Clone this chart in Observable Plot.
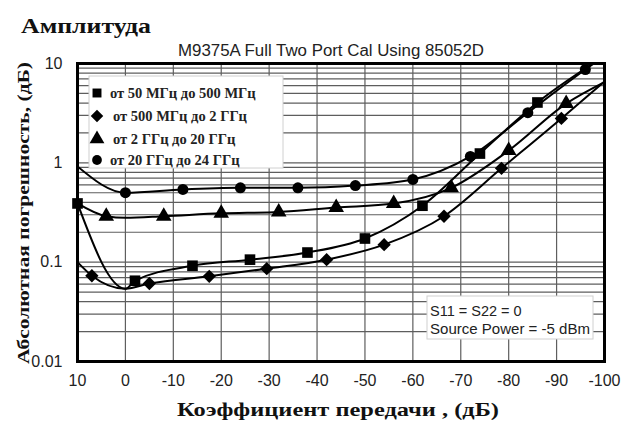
<!DOCTYPE html>
<html>
<head>
<meta charset="utf-8">
<script src="https://cdn.jsdelivr.net/npm/d3@7"></script>
<script src="https://cdn.jsdelivr.net/npm/@observablehq/plot@0.6"></script>
<style>
  html, body { margin: 0; padding: 0; background: white; }
</style>
</head>
<body>
<div id="chart"></div>
<script>
// ---- data ----
const xTicks = [10, 0, -10, -20, -30, -40, -50, -60, -70, -80, -90, -100];
const yTicks = [0.01, 0.1, 1, 10];
const yTickLabels = ["0.01", "0.1", "1", "10"];

const seriesNames = ["от 50 МГц до 500 МГц", "от 500 МГц до 2 ГГц", "от 2 ГГц до 20 ГГц", "от 20 ГГц до 24 ГГц"];
const seriesSymbols = ["square", "diamond2", "triangle", "circle"];

// 50–500 MHz (squares)
const sqX = [10, 0, -2, -14, -26, -38, -50, -62, -74, -86, -98];
const sqY = [0.39, 0.054, 0.065, 0.092, 0.106, 0.125, 0.173, 0.37, 1.24, 4.05, 10.3];
const sqM = [1, 0, 1, 1, 1, 1, 1, 1, 1, 1, 0];

// 500 MHz – 2 GHz (diamonds)
const dmX = [10, 7, 0, -5, -17.5, -29.5, -42, -54, -66.5, -78.5, -91, -100];
const dmY = [0.1, 0.073, 0.054, 0.061, 0.072, 0.086, 0.106, 0.15, 0.29, 0.88, 2.8, 6.6];
const dmM = [0, 1, 0, 1, 1, 1, 1, 1, 1, 1, 1, 0];

// 2 – 20 GHz (triangles)
const trX = [10, 4, 0, -8, -20, -32, -44, -56, -68, -80, -92, -100];
const trY = [0.39, 0.29, 0.28, 0.29, 0.31, 0.32, 0.355, 0.39, 0.56, 1.33, 3.95, 6.5];
const trM = [0, 1, 0, 1, 1, 1, 1, 1, 1, 1, 1, 0];

// 20 – 24 GHz (circles)
const ciX = [10, 0, -12, -24, -36, -48, -60, -72, -84, -96, -98];
const ciY = [0.92, 0.50, 0.54, 0.56, 0.56, 0.59, 0.68, 1.16, 3.2, 8.7, 10.2];
const ciM = [0, 1, 1, 1, 1, 1, 1, 1, 1, 1, 0];

// ---- build tables ----
function table(xs, ys, ms, k) {
  return xs.map((x, i) => ({x, y: ys[i], m: ms[i], s: k}));
}
const series = [
  table(sqX, sqY, sqM, 0),
  table(dmX, dmY, dmM, 1),
  table(trX, trY, trM, 2),
  table(ciX, ciY, ciM, 3)
];
const yGrid = [];
[0.01, 0.1, 1].forEach(d => { for (let k = 1; k <= 9; k++) yGrid.push(+(d * k).toPrecision(3)); });
yGrid.push(10);

const markerR = [6, 6, 5.8, 5.5];

const marks = [
  Plot.ruleY(yGrid, {stroke: "#5e5e5e", strokeWidth: 1.2}),
  Plot.ruleX(xTicks, {stroke: "#5e5e5e", strokeWidth: 1.2}),
];
series.forEach((data, k) => {
  marks.push(Plot.line(data, {x: "x", y: "y", stroke: "black", strokeWidth: 2, curve: "monotone-x", clip: true}));
  marks.push(Plot.dot(data.filter(d => d.m), {x: "x", y: "y", symbol: () => seriesSymbols[k], r: markerR[k], fill: "black", stroke: "none"}));
});
marks.push(Plot.frame({stroke: "black", strokeWidth: 3}));
marks.push(Plot.axisX(xTicks, {tickSize: 0, tickPadding: 13, fontSize: 16, tickFormat: d => String(d), label: null}));
marks.push(Plot.axisY(yTicks, {tickSize: 0, tickPadding: 15, fontSize: 16, tickFormat: d => yTickLabels[yTicks.indexOf(d)], label: null}));

const chart = Plot.plot({
  width: 623,
  height: 426,
  marginLeft: 77,
  marginRight: 19,
  marginTop: 63,
  marginBottom: 65,
  style: {fontFamily: "'Liberation Sans', Arial, sans-serif", background: "white", color: "#222"},
  x: {domain: [10, -100], label: null},
  y: {type: "log", domain: [0.01, 10], label: null},
  marks
});
document.getElementById("chart").appendChild(chart);

// ---- annotations ----
const svg = d3.select(chart);
const serif = "'Liberation Serif', 'Times New Roman', serif";
const sans = "'Liberation Sans', Arial, sans-serif";

function addText(g, str, attrs) {
  const t = g.append("text").text(str).attr("text-anchor", "start");
  Object.entries(attrs).forEach(([k, v]) => t.attr(k, v));
  return t;
}

addText(svg, "Амплитуда", {x: 21, y: 33, "font-family": serif, "font-weight": "bold", "font-size": 21,
  textLength: 130, lengthAdjust: "spacingAndGlyphs", fill: "#111"});

addText(svg, "M9375A Full Two Port Cal Using 85052D", {x: 178, y: 56, "font-family": sans, "font-size": 16,
  textLength: 306, lengthAdjust: "spacingAndGlyphs", fill: "#222"});

addText(svg, "Абсолютная погрешность, (дБ)", {transform: "translate(29,364) rotate(-90)", "font-family": serif,
  "font-weight": "bold", "font-size": 17, textLength: 302, lengthAdjust: "spacingAndGlyphs", fill: "#111"});

addText(svg, "Коэффициент передачи , (дБ)", {x: 177, y: 416, "font-family": serif, "font-weight": "bold",
  "font-size": 19, textLength: 322, lengthAdjust: "spacingAndGlyphs", fill: "#111"});

// legend box
const lg = svg.append("g");
lg.append("rect").attr("x", 89).attr("y", 76).attr("width", 194).attr("height", 92)
  .attr("fill", "white").attr("stroke", "#d0d0d0");
const legY = [93, 116, 139, 160];
const legTX = [110, 113, 113, 110];
const legSym = [d3.symbolSquare, d3.symbolDiamond2, d3.symbolTriangle, d3.symbolCircle];
const legSize = [80, 100, 95, 75];
seriesNames.forEach((name, i) => {
  lg.append("path").attr("d", d3.symbol(legSym[i], legSize[i])())
    .attr("transform", `translate(97,${legY[i]})`).attr("fill", "black");
  addText(lg, name, {x: legTX[i], y: legY[i] + 5, "font-family": serif, "font-weight": "bold",
    "font-size": 14.5, fill: "#222"});
});

// info box
const ib = svg.append("g");
ib.append("rect").attr("x", 427).attr("y", 296).attr("width", 166).attr("height", 43)
  .attr("fill", "white").attr("stroke", "#d0d0d0");
addText(ib, "S11 = S22 = 0", {x: 430, y: 316, "font-family": sans, "font-size": 14.5, fill: "#222"});
addText(ib, "Source Power = -5 dBm", {x: 430, y: 334, "font-family": sans, "font-size": 14.5, fill: "#222",
  textLength: 160, lengthAdjust: "spacingAndGlyphs"});
</script>
</body>
</html>
